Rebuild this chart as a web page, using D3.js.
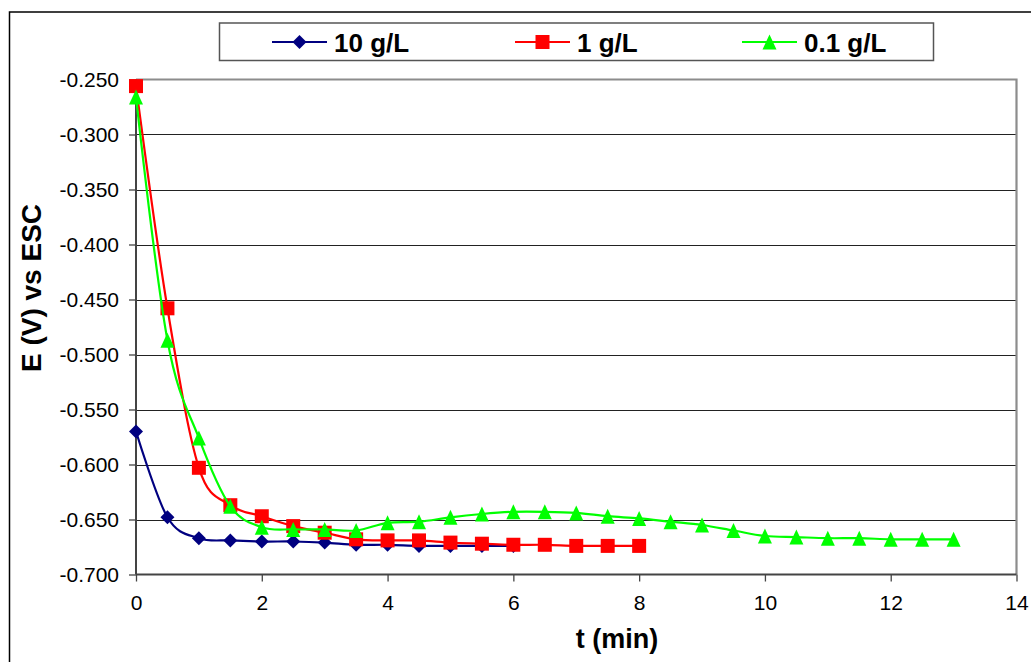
<!DOCTYPE html>
<html>
<head>
<meta charset="utf-8">
<script src="https://cdn.jsdelivr.net/npm/d3@7"></script>
<style>
  html, body { margin: 0; padding: 0; background: #fff; }
  svg { display: block; font-family: "Liberation Sans", Arial, sans-serif; }
</style>
</head>
<body>
<svg id="chart" width="1031" height="662"></svg>
<script>
// ---- data ----
const seriesNames = ["10 g/L", "1 g/L", "0.1 g/L"];
const time10 = [0, 0.5, 1, 1.5, 2, 2.5, 3, 3.5, 4, 4.5, 5, 5.5, 6];
const e10 = [-0.570, -0.648, -0.667, -0.669, -0.670, -0.670, -0.671, -0.673, -0.673, -0.674, -0.674, -0.674, -0.674];
const time1 = [0, 0.5, 1, 1.5, 2, 2.5, 3, 3.5, 4, 4.5, 5, 5.5, 6, 6.5, 7, 7.5, 8];
const e1 = [-0.256, -0.458, -0.603, -0.637, -0.647, -0.656, -0.662, -0.668, -0.669, -0.669, -0.671, -0.672, -0.673, -0.673, -0.674, -0.674, -0.674];
const time01 = [0, 0.5, 1, 1.5, 2, 2.5, 3, 3.5, 4, 4.5, 5, 5.5, 6, 6.5, 7, 7.5, 8, 8.5, 9, 9.5, 10, 10.5, 11, 11.5, 12, 12.5, 13];
const e01 = [-0.266, -0.487, -0.576, -0.638, -0.657, -0.659, -0.659, -0.660, -0.653, -0.652, -0.648, -0.645, -0.643, -0.643, -0.644, -0.647, -0.649, -0.652, -0.655, -0.660, -0.665, -0.666, -0.667, -0.667, -0.668, -0.668, -0.668];
const xTicks = [0, 2, 4, 6, 8, 10, 12, 14];
const xTickLabels = ["0", "2", "4", "6", "8", "10", "12", "14"];
const yTicks = [-0.25, -0.30, -0.35, -0.40, -0.45, -0.50, -0.55, -0.60, -0.65, -0.70];
const yTickLabels = ["-0.250", "-0.300", "-0.350", "-0.400", "-0.450", "-0.500", "-0.550", "-0.600", "-0.650", "-0.700"];
const xTitle = "t (min)";
const yTitle = "E (V) vs ESC";

// ---- layout ----
const svg = d3.select("#chart");
const L = 136, R = 1016.5, T = 79.5, B = 574.5;
const x = d3.scaleLinear().domain([0, 14]).range([L, R]);
const y = d3.scaleLinear().domain([-0.70, -0.25]).range([B, T]);

// outer border
svg.append("rect").attr("x", 9.5).attr("y", 12).attr("width", 1040).attr("height", 700)
  .attr("fill", "none").attr("stroke", "#000").attr("stroke-width", 1.5);

// gridlines
svg.append("g").selectAll("line").data(yTicks.slice(1, -1)).join("line")
  .attr("x1", L).attr("x2", R).attr("y1", d => Math.round(y(d)) + 0.5).attr("y2", d => Math.round(y(d)) + 0.5)
  .attr("stroke", "#222").attr("stroke-width", 1);

// plot border top/right (grey)
svg.append("path").attr("d", `M${L},${T}H${R}V${B}`).attr("fill", "none")
  .attr("stroke", "#8c8c8c").attr("stroke-width", 2.2);

// axes
const yAxis = d3.axisLeft(y).tickValues(yTicks).tickSize(7).tickPadding(10)
  .tickFormat((d, i) => yTickLabels[i]);
const gy = svg.append("g").attr("transform", `translate(${L},0)`).call(yAxis);
const xAxis = d3.axisBottom(x).tickValues(xTicks).tickSize(7).tickPadding(14)
  .tickFormat((d, i) => xTickLabels[i]);
const gx = svg.append("g").attr("transform", `translate(0,${B})`).call(xAxis);
[gx, gy].forEach(g => {
  g.select(".domain").attr("stroke", "#444").attr("stroke-width", 2);
  g.selectAll(".tick line").attr("stroke", "#444").attr("stroke-width", 1.3);
  g.selectAll("text").attr("font-family", "Liberation Sans, Arial, sans-serif")
    .attr("font-size", 21).attr("fill", "#000");
});
gx.select(".domain").attr("d", `M${L},0H${R}`);
gy.select(".domain").attr("d", `M0,${B}V${T}`);
gy.selectAll("text").attr("dy", "0.35em");

// axis titles
svg.append("text").attr("x", 617).attr("y", 648).attr("text-anchor", "middle")
  .attr("font-weight", "bold").attr("font-size", 27).text(xTitle);
svg.append("text").attr("transform", "translate(41,288) rotate(-90)").attr("text-anchor", "middle")
  .attr("font-weight", "bold").attr("font-size", 28).text(yTitle);

// series
const series = [
  { name: seriesNames[0], t: time10, e: e10, color: "#000080", shape: "diamond" },
  { name: seriesNames[1], t: time1, e: e1, color: "#ff0000", shape: "square" },
  { name: seriesNames[2], t: time01, e: e01, color: "#00ff00", shape: "triangle" }
];
const line = d3.line().x(d => x(d[0])).y(d => y(d[1])).curve(d3.curveCardinal.tension(0));

function marker(g, s, cx, cy) {
  let p;
  if (s.shape === "diamond") {
    const r = 7;
    p = `M${cx},${cy - r}L${cx + r},${cy}L${cx},${cy + r}L${cx - r},${cy}Z`;
  } else if (s.shape === "square") {
    const r = 7;
    p = `M${cx - r},${cy - r}h${2 * r}v${2 * r}h${-2 * r}Z`;
  } else {
    const w = 7, h = 7.5;
    p = `M${cx},${cy - h}L${cx + w},${cy + h}L${cx - w},${cy + h}Z`;
  }
  g.append("path").attr("d", p).attr("fill", s.color);
}

series.forEach(s => {
  const pts = s.t.map((t, i) => [t, s.e[i]]);
  const g = svg.append("g");
  g.append("path").attr("d", line(pts)).attr("fill", "none").attr("stroke", s.color).attr("stroke-width", 2.2);
  pts.forEach(p => marker(g, s, x(p[0]), y(p[1])));
});

// legend
svg.append("rect").attr("x", 219.5).attr("y", 23).attr("width", 714).attr("height", 37.5)
  .attr("fill", "#fff").attr("stroke", "#555").attr("stroke-width", 1.5);
const legendX = [272, 515, 742];
series.forEach((s, i) => {
  const g = svg.append("g");
  const lx = legendX[i], ly = 42;
  g.append("line").attr("x1", lx).attr("x2", lx + 55).attr("y1", ly).attr("y2", ly)
    .attr("stroke", s.color).attr("stroke-width", 2.2);
  marker(g, s, lx + 27.5, ly);
  g.append("text").attr("x", lx + 62).attr("y", ly + 9.5).attr("font-weight", "bold")
    .attr("font-size", 26).text(s.name);
});
</script>
</body>
</html>
